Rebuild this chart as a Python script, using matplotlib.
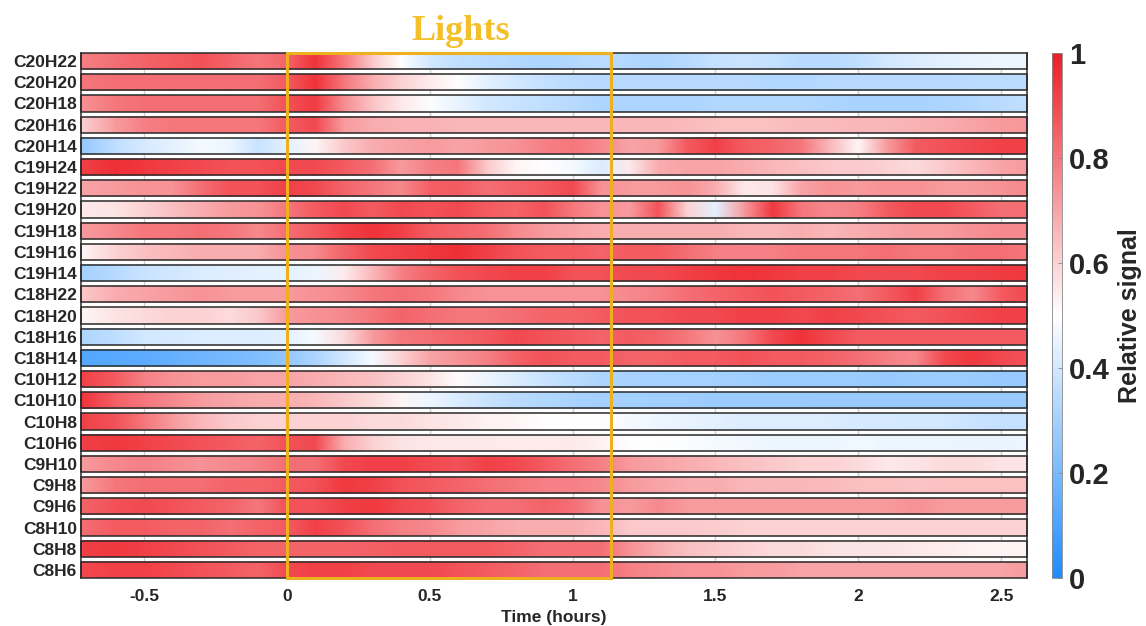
import numpy as np
import matplotlib
matplotlib.use("Agg")
import matplotlib.pyplot as plt
from matplotlib.colors import LinearSegmentedColormap, Normalize
from matplotlib.cm import ScalarMappable
from matplotlib.patches import Rectangle

# ---------------- data ----------------
TIME = [-0.72, -0.6, -0.5, -0.4, -0.3, -0.2, -0.1,
        0.0, 0.1, 0.2, 0.3, 0.4, 0.5, 0.6, 0.7, 0.8, 0.9,
        1.0, 1.1, 1.2, 1.3, 1.4, 1.5, 1.6, 1.7, 1.8, 1.9,
        2.0, 2.1, 2.2, 2.3, 2.4, 2.5, 2.59]

LABELS = ["C20H22", "C20H20", "C20H18", "C20H16", "C20H14", "C19H24", "C19H22",
          "C19H20", "C19H18", "C19H16", "C19H14", "C18H22", "C18H20", "C18H16",
          "C18H14", "C10H12", "C10H10", "C10H8", "C10H6", "C9H10", "C9H8", "C9H6",
          "C8H10", "C8H8", "C8H6"]

C20H22 = [0.78, 0.82, 0.84, 0.86, 0.88, 0.84, 0.80,
          0.84, 0.95, 0.80, 0.62, 0.50, 0.40, 0.36, 0.35, 0.33, 0.32,
          0.33, 0.35, 0.33, 0.32, 0.34, 0.37, 0.38, 0.37, 0.34, 0.34,
          0.36, 0.40, 0.42, 0.44, 0.45, 0.46, 0.46]
C20H20 = [0.80, 0.82, 0.82, 0.82, 0.82, 0.82, 0.82,
          0.86, 0.95, 0.80, 0.68, 0.60, 0.54, 0.50, 0.44, 0.40, 0.37,
          0.35, 0.34, 0.34, 0.34, 0.34, 0.34, 0.34, 0.33, 0.33, 0.34,
          0.34, 0.34, 0.34, 0.34, 0.35, 0.35, 0.35]
C20H18 = [0.74, 0.80, 0.82, 0.82, 0.82, 0.82, 0.82,
          0.88, 0.93, 0.75, 0.63, 0.55, 0.49, 0.45, 0.40, 0.38, 0.36,
          0.34, 0.32, 0.32, 0.32, 0.32, 0.33, 0.33, 0.33, 0.33, 0.32,
          0.31, 0.31, 0.31, 0.32, 0.33, 0.35, 0.36]
C20H16 = [0.60, 0.72, 0.78, 0.80, 0.80, 0.80, 0.80,
          0.86, 0.90, 0.72, 0.68, 0.67, 0.67, 0.66, 0.66, 0.66, 0.66,
          0.66, 0.66, 0.66, 0.66, 0.65, 0.64, 0.64, 0.64, 0.65, 0.65,
          0.66, 0.66, 0.67, 0.68, 0.70, 0.72, 0.73]
C20H14 = [0.26, 0.36, 0.41, 0.44, 0.48, 0.46, 0.38,
          0.44, 0.52, 0.62, 0.68, 0.70, 0.72, 0.70, 0.72, 0.74, 0.78,
          0.80, 0.76, 0.70, 0.72, 0.86, 0.92, 0.86, 0.84, 0.80, 0.66,
          0.52, 0.72, 0.86, 0.88, 0.90, 0.92, 0.92]
C19H24 = [0.92, 0.96, 0.94, 0.92, 0.90, 0.88, 0.88,
          0.90, 0.90, 0.86, 0.82, 0.72, 0.78, 0.80, 0.62, 0.52, 0.50,
          0.48, 0.42, 0.55, 0.68, 0.70, 0.70, 0.68, 0.66, 0.64, 0.62,
          0.62, 0.60, 0.58, 0.62, 0.66, 0.70, 0.72]
C19H22 = [0.70, 0.72, 0.74, 0.74, 0.82, 0.88, 0.88,
          0.92, 0.90, 0.84, 0.80, 0.76, 0.85, 0.86, 0.82, 0.84, 0.86,
          0.90, 0.74, 0.72, 0.72, 0.74, 0.68, 0.55, 0.56, 0.70, 0.74,
          0.72, 0.74, 0.74, 0.72, 0.72, 0.74, 0.76]
C19H20 = [0.55, 0.56, 0.60, 0.64, 0.68, 0.72, 0.74,
          0.80, 0.86, 0.90, 0.86, 0.90, 0.88, 0.90, 0.86, 0.84, 0.88,
          0.80, 0.74, 0.72, 0.88, 0.60, 0.44, 0.72, 0.94, 0.80, 0.76,
          0.78, 0.86, 0.90, 0.90, 0.86, 0.82, 0.82]
C19H18 = [0.72, 0.76, 0.80, 0.80, 0.82, 0.80, 0.76,
          0.82, 0.86, 0.92, 0.95, 0.92, 0.86, 0.84, 0.82, 0.76, 0.72,
          0.70, 0.68, 0.68, 0.68, 0.68, 0.68, 0.66, 0.66, 0.68, 0.66,
          0.68, 0.70, 0.72, 0.72, 0.74, 0.76, 0.76]
C19H16 = [0.52, 0.60, 0.64, 0.66, 0.68, 0.68, 0.68,
          0.74, 0.76, 0.84, 0.90, 0.92, 0.94, 0.96, 0.92, 0.88, 0.86,
          0.86, 0.84, 0.86, 0.86, 0.82, 0.78, 0.78, 0.78, 0.80, 0.80,
          0.80, 0.82, 0.80, 0.80, 0.82, 0.82, 0.80]
C19H14 = [0.30, 0.34, 0.38, 0.40, 0.42, 0.43, 0.44,
          0.44, 0.46, 0.54, 0.66, 0.78, 0.84, 0.88, 0.90, 0.92, 0.92,
          0.88, 0.88, 0.90, 0.90, 0.92, 0.94, 0.95, 0.94, 0.92, 0.92,
          0.90, 0.90, 0.90, 0.92, 0.92, 0.93, 0.94]
C18H22 = [0.62, 0.68, 0.70, 0.72, 0.74, 0.72, 0.72,
          0.72, 0.74, 0.76, 0.80, 0.82, 0.80, 0.76, 0.74, 0.74, 0.74,
          0.74, 0.74, 0.76, 0.78, 0.82, 0.84, 0.86, 0.88, 0.86, 0.84,
          0.82, 0.86, 0.92, 0.82, 0.76, 0.86, 0.90]
C18H20 = [0.52, 0.56, 0.58, 0.60, 0.60, 0.58, 0.62,
          0.72, 0.74, 0.76, 0.80, 0.84, 0.82, 0.80, 0.80, 0.82, 0.84,
          0.84, 0.86, 0.88, 0.88, 0.90, 0.90, 0.92, 0.92, 0.90, 0.92,
          0.90, 0.88, 0.86, 0.88, 0.90, 0.92, 0.92]
C18H16 = [0.32, 0.36, 0.40, 0.41, 0.42, 0.42, 0.42,
          0.44, 0.48, 0.58, 0.72, 0.80, 0.82, 0.84, 0.86, 0.90, 0.88,
          0.86, 0.84, 0.86, 0.84, 0.80, 0.74, 0.80, 0.90, 0.95, 0.90,
          0.86, 0.86, 0.86, 0.86, 0.86, 0.86, 0.86]
C18H14 = [0.12, 0.13, 0.14, 0.16, 0.18, 0.20, 0.22,
          0.26, 0.32, 0.40, 0.48, 0.60, 0.70, 0.74, 0.78, 0.84, 0.88,
          0.86, 0.86, 0.84, 0.84, 0.86, 0.86, 0.88, 0.86, 0.86, 0.84,
          0.82, 0.78, 0.76, 0.90, 0.94, 0.90, 0.88]
C10H12 = [0.92, 0.86, 0.78, 0.74, 0.72, 0.72, 0.70,
          0.70, 0.68, 0.66, 0.64, 0.60, 0.56, 0.51, 0.46, 0.42, 0.38,
          0.35, 0.32, 0.31, 0.30, 0.30, 0.30, 0.29, 0.28, 0.28, 0.28,
          0.28, 0.27, 0.28, 0.28, 0.28, 0.27, 0.27]
C10H10 = [0.95, 0.85, 0.80, 0.76, 0.72, 0.70, 0.68,
          0.68, 0.66, 0.62, 0.58, 0.52, 0.46, 0.42, 0.38, 0.35, 0.33,
          0.31, 0.30, 0.30, 0.29, 0.29, 0.28, 0.28, 0.28, 0.28, 0.27,
          0.27, 0.27, 0.27, 0.27, 0.27, 0.27, 0.27]
C10H8 = [0.92, 0.88, 0.80, 0.72, 0.66, 0.62, 0.60,
         0.60, 0.60, 0.60, 0.58, 0.58, 0.56, 0.55, 0.53, 0.52, 0.50,
         0.50, 0.50, 0.48, 0.46, 0.45, 0.44, 0.42, 0.42, 0.42, 0.42,
         0.41, 0.41, 0.40, 0.40, 0.38, 0.37, 0.37]
C10H6 = [0.92, 0.94, 0.92, 0.90, 0.88, 0.86, 0.84,
         0.88, 0.90, 0.68, 0.60, 0.56, 0.55, 0.55, 0.55, 0.54, 0.54,
         0.55, 0.53, 0.50, 0.50, 0.49, 0.48, 0.47, 0.46, 0.46, 0.46,
         0.47, 0.46, 0.46, 0.46, 0.45, 0.45, 0.46]
C9H10 = [0.72, 0.76, 0.78, 0.76, 0.74, 0.76, 0.78,
         0.82, 0.82, 0.90, 0.92, 0.92, 0.90, 0.88, 0.92, 0.90, 0.86,
         0.82, 0.78, 0.72, 0.70, 0.68, 0.66, 0.64, 0.62, 0.60, 0.60,
         0.58, 0.55, 0.56, 0.58, 0.58, 0.56, 0.56]
C9H8 = [0.72, 0.80, 0.82, 0.82, 0.82, 0.84, 0.84,
        0.86, 0.88, 0.94, 0.92, 0.88, 0.86, 0.84, 0.82, 0.80, 0.78,
        0.78, 0.76, 0.72, 0.70, 0.68, 0.68, 0.66, 0.66, 0.66, 0.65,
        0.64, 0.64, 0.63, 0.64, 0.64, 0.64, 0.64]
C9H6 = [0.84, 0.88, 0.90, 0.88, 0.86, 0.84, 0.80,
        0.88, 0.88, 0.92, 0.94, 0.90, 0.88, 0.84, 0.82, 0.82, 0.84,
        0.82, 0.74, 0.72, 0.76, 0.72, 0.72, 0.72, 0.72, 0.72, 0.72,
        0.72, 0.72, 0.74, 0.72, 0.72, 0.72, 0.72]
C8H10 = [0.82, 0.86, 0.86, 0.84, 0.84, 0.82, 0.84,
         0.86, 0.92, 0.88, 0.82, 0.78, 0.76, 0.72, 0.70, 0.68, 0.68,
         0.68, 0.66, 0.62, 0.62, 0.62, 0.61, 0.60, 0.60, 0.60, 0.60,
         0.60, 0.60, 0.60, 0.60, 0.60, 0.60, 0.60]
C8H8 = [0.92, 0.94, 0.92, 0.90, 0.88, 0.86, 0.84,
        0.84, 0.84, 0.84, 0.85, 0.86, 0.86, 0.86, 0.86, 0.84, 0.82,
        0.82, 0.82, 0.74, 0.68, 0.64, 0.62, 0.60, 0.58, 0.58, 0.56,
        0.56, 0.56, 0.55, 0.54, 0.53, 0.52, 0.53]
C8H6 = [0.90, 0.92, 0.92, 0.90, 0.88, 0.86, 0.84,
        0.90, 0.92, 0.92, 0.90, 0.90, 0.90, 0.88, 0.86, 0.84, 0.82,
        0.82, 0.82, 0.78, 0.76, 0.74, 0.74, 0.72, 0.72, 0.70, 0.70,
        0.70, 0.70, 0.70, 0.70, 0.70, 0.70, 0.72]

SIGNALS = [C20H22, C20H20, C20H18, C20H16, C20H14, C19H24, C19H22, C19H20,
           C19H18, C19H16, C19H14, C18H22, C18H20, C18H16, C18H14, C10H12,
           C10H10, C10H8, C10H6, C9H10, C9H8, C9H6, C8H10, C8H8, C8H6]

LIGHTS_ON = 0.0
LIGHTS_OFF = 1.136
XTICKS = [-0.5, 0, 0.5, 1, 1.5, 2, 2.5]
XTICKLABELS = ["-0.5", "0", "0.5", "1", "1.5", "2", "2.5"]
CTICKS = [0, 0.2, 0.4, 0.6, 0.8, 1]
CTICKLABELS = ["0", "0.2", "0.4", "0.6", "0.8", "1"]

# ---------------- style ----------------
W, H = 1146, 626
fig = plt.figure(figsize=(W / 100, H / 100), dpi=100)
plt.rcParams["font.family"] = ["Liberation Sans", "DejaVu Sans"]
TXT = "#262626"

cmap = LinearSegmentedColormap.from_list(
    "bwr_custom", ["#1E8CFF", "#FFFFFF", "#EE1D25"])
norm = Normalize(0, 1)

ax = fig.add_axes([81 / W, 1 - 578 / H, (1027 - 81) / W, (578 - 53) / H])
hgt = 0.76
t = np.asarray(TIME)
xmin, xmax = t[0], t[-1]

for i, vals in enumerate(SIGNALS):
    v = np.asarray(vals)
    X = np.vstack([t, t])
    Y = np.vstack([np.full_like(t, i), np.full_like(t, i + hgt)])
    Z = np.vstack([v, v])
    ax.pcolormesh(X, Y, Z, shading="gouraud", cmap=cmap, norm=norm, zorder=2)
    ax.add_patch(Rectangle((xmin, i), xmax - xmin, hgt, fill=False,
                           edgecolor="#2a2a2a", linewidth=1.1, zorder=3,
                           clip_on=False))

ax.set_xlim(xmin, xmax)
ax.set_ylim(len(SIGNALS) - 1 + hgt, 0)
ax.set_xticks(XTICKS)
ax.set_xticklabels(XTICKLABELS)
ax.set_yticks(np.arange(len(SIGNALS)) + hgt / 2)
ax.set_yticklabels(LABELS)
ax.grid(axis="x", color="#cfcfcf", linewidth=1.0, zorder=0)
ax.set_axisbelow(True)
ax.tick_params(axis="x", length=0, pad=8, labelsize=12.5, labelcolor=TXT)
ax.tick_params(axis="y", length=0, pad=3, labelsize=12.5, labelcolor=TXT)
for lab in ax.get_xticklabels() + ax.get_yticklabels():
    lab.set_fontweight("bold")
for s in ["top", "bottom"]:
    ax.spines[s].set_visible(False)
for s in ["left", "right"]:
    ax.spines[s].set_color("#2a2a2a")
    ax.spines[s].set_linewidth(1.1)
ax.set_xlabel("Time (hours)", fontsize=12.5, fontweight="bold", color=TXT,
              labelpad=4)

# lights box
ax.add_patch(Rectangle((LIGHTS_ON, 0), LIGHTS_OFF - LIGHTS_ON,
                       len(SIGNALS) - 1 + hgt, fill=False,
                       edgecolor="#EDB120", linewidth=2.2, zorder=5,
                       clip_on=False))
fig.text(461 / W, 1 - 32 / H, "Lights", ha="center", va="center",
         fontfamily="Liberation Serif", fontweight="bold", fontsize=26,
         color="#F4C02A")

# colorbar
cax = fig.add_axes([1052 / W, 1 - 578 / H, 10 / W, (578 - 53) / H])
cb = fig.colorbar(ScalarMappable(norm=norm, cmap=cmap), cax=cax)
cb.set_ticks(CTICKS)
cb.set_ticklabels(CTICKLABELS)
cb.outline.set_linewidth(0.6)
cb.outline.set_edgecolor("#888888")
cax.tick_params(length=3, direction="in", width=0.6, color="#888888",
                pad=5, labelsize=21, labelcolor=TXT)
for lab in cax.get_yticklabels():
    lab.set_fontweight("bold")
cb.set_label("Relative signal", fontsize=18, fontweight="bold", color=TXT,
             labelpad=6)

fig.savefig("out.png", dpi=100, facecolor="white")
